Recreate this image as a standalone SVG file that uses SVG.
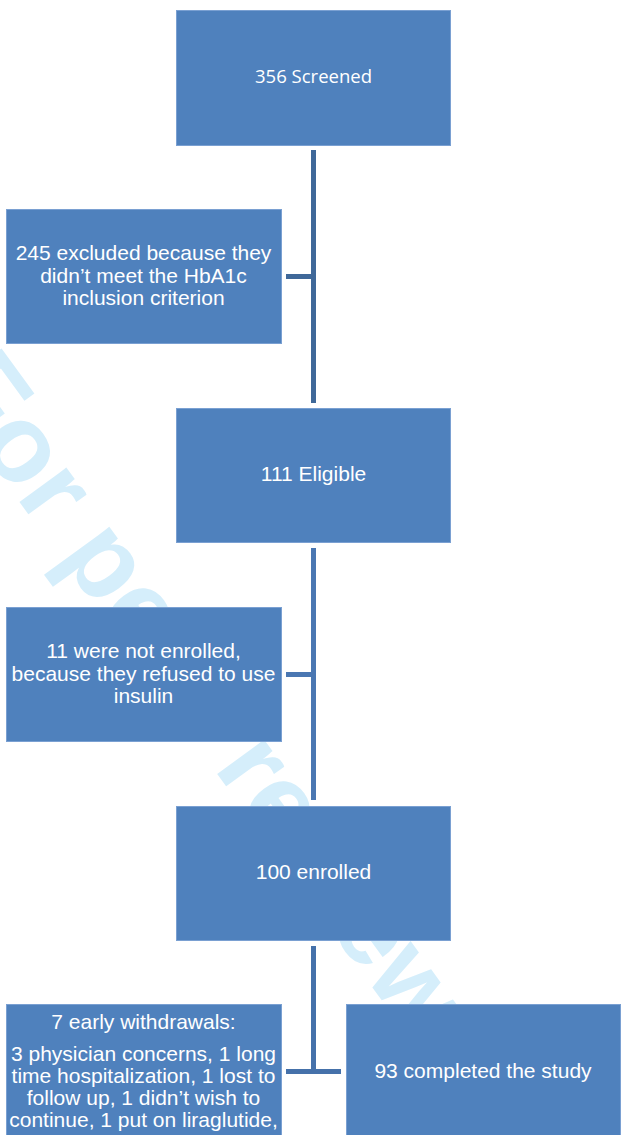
<svg xmlns="http://www.w3.org/2000/svg" width="621" height="1135" viewBox="0 0 621 1135">
<style>
.box{fill:#4f81bd;stroke:#7aa0d2;stroke-width:1}
.t{font-family:"Liberation Sans",Arial,sans-serif;font-size:21px;fill:#ffffff;text-anchor:middle}
.c{font-family:"Open Sans","Noto Sans",sans-serif;font-size:18.5px;fill:#ffffff;text-anchor:middle}
.wm{font-family:"Liberation Sans",Arial,sans-serif;font-weight:bold;font-size:110px;fill:#d5eefb}
</style>
<rect width="621" height="1135" fill="#ffffff"/>
<text class="wm" transform="translate(-64,387) rotate(54)">For peer review only</text>
<g id="connectors">
<rect x="311" y="150" width="5" height="253" fill="#3f6899"/>
<rect x="286" y="274" width="27" height="5" fill="#3f6899"/>
<rect x="311" y="548" width="5" height="252" fill="#4a77b2"/>
<rect x="286" y="672" width="27" height="5" fill="#4a77b2"/>
<rect x="311" y="946" width="5" height="128" fill="#4571aa"/>
<rect x="286" y="1069" width="55" height="5" fill="#4571aa"/>
</g>
<g id="screened">
<rect class="box" x="176.5" y="10.5" width="274" height="135"/>
<text class="c" x="313.5" y="83">356 Screened</text>
</g>
<g id="excluded">
<rect class="box" x="6.5" y="209.5" width="275" height="134"/>
<text class="t" x="143.5" y="260">245 excluded because they</text>
<text class="t" x="143.5" y="282.5">didn’t meet the HbA1c</text>
<text class="t" x="143.5" y="305">inclusion criterion</text>
</g>
<g id="eligible">
<rect class="box" x="176.5" y="408.5" width="274" height="134"/>
<text class="t" x="313.5" y="481">111 Eligible</text>
</g>
<g id="not-enrolled">
<rect class="box" x="6.5" y="607.5" width="275" height="134"/>
<text class="t" x="143.5" y="658">11 were not enrolled,</text>
<text class="t" x="143.5" y="680.5">because they refused to use</text>
<text class="t" x="143.5" y="703">insulin</text>
</g>
<g id="enrolled">
<rect class="box" x="176.5" y="806.5" width="274" height="134"/>
<text class="t" x="313.5" y="879">100 enrolled</text>
</g>
<g id="withdrawals">
<rect class="box" x="6.5" y="1004.5" width="275" height="140"/>
<text class="t" x="143.5" y="1029">7 early withdrawals:</text>
<text class="t" x="143.5" y="1061">3 physician concerns, 1 long</text>
<text class="t" x="143.5" y="1083">time hospitalization, 1 lost to</text>
<text class="t" x="143.5" y="1105">follow up, 1 didn’t wish to</text>
<text class="t" x="143.5" y="1127">continue, 1 put on liraglutide,</text>
</g>
<g id="completed">
<rect class="box" x="346.5" y="1004.5" width="274" height="140"/>
<text class="t" x="483" y="1078">93 completed the study</text>
</g>
</svg>
